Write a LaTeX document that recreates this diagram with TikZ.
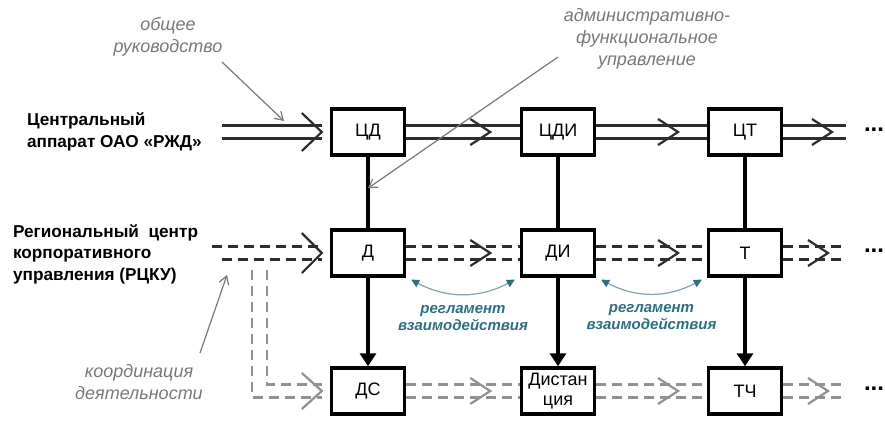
\documentclass[tikz,border=0pt]{standalone}
\usepackage{fontspec}
\setmainfont{Liberation Sans}
\usepackage{xcolor}
\usetikzlibrary{positioning, arrows.meta, calc}
\definecolor{ink}{RGB}{45,45,45}
\definecolor{fog}{RGB}{145,145,145}
\definecolor{notec}{RGB}{120,120,120}
\definecolor{reglc}{RGB}{45,110,130}
\definecolor{regll}{RGB}{125,165,175}
\newcommand{\chev}[3]{\draw[#1] ($(#2)+(-20,-#3)$) -- (#2) -- ($(#2)+(-20,#3)$);}

\begin{document}
\begin{tikzpicture}[x=0.5pt, y=-0.5pt,
  unit/.style={draw, line width=1.7pt, minimum width=36.5pt, minimum height=23pt, inner sep=1pt, align=center, font=\fontsize{9}{9.8}\selectfont},
  lvl/.style={anchor=west, align=left, font=\bfseries\fontsize{8.6}{10.8}\selectfont},
  dbl/.style={ink, line width=1.1pt},
  dsh/.style={ink, line width=1.1pt, dash pattern=on 5pt off 3pt},
  dshl/.style={dsh, fog},
  vline/.style={line width=1.7pt},
  note/.style={text=notec, align=center, font=\itshape\fontsize{9}{11}\selectfont},
  ptr/.style={notec, line width=0.6pt, -{Straight Barb[length=4pt,width=5pt]}},
  reg/.style={regll, line width=0.6pt, {Triangle[length=4pt,width=4pt,color=reglc]}-{Triangle[length=4pt,width=4pt,color=reglc]}},
  regtxt/.style={text=reglc, align=center, font=\bfseries\itshape\fontsize{7.5}{8.5}\selectfont}]
\useasboundingbox (0,0) rectangle (885,424);

% units
\node[unit] (cd) at (368,132) {ЦД};
\node[unit] (cdi) at (558,132) {ЦДИ};
\node[unit] (ct) at (745,132) {ЦТ};
\node[unit] (d) at (368,253) {Д};
\node[unit] (di) at (558,253) {ДИ};
\node[unit] (t) at (745,253) {Т};
\node[unit] (ds) at (368,391) {ДС};
\node[unit] (dist) at (558,391) {Дистан\\ция};
\node[unit] (tch) at (745,391) {ТЧ};

% levels
\node[lvl] (cal) at (20,132) {Центральный\\аппарат ОАО «РЖД»};
\node[lvl] (rcku) at (6,254) {Региональный\ \ центр\\корпоративного\\управления (РЦКУ)};

\node[note] (obr) at (168,37) {общее\\руководство};
\node[note] (afu) at (647,39) {административно-\\функциональное\\управление};
\node[note] (kdt) at (139,382) {координация\\деятельности};

% top row
\coordinate (c0) at (222,132);
\coordinate (c1) at ([xshift=-4pt]cd.west);
\coordinate (c2) at ($(cd.east)!0.74!(cdi.west)$);
\coordinate (c3) at ($(cdi.east)!0.74!(ct.west)$);
\coordinate (c4) at (832,132);
\coordinate (ce) at (846,132);
\foreach \s in {3.25pt,-3.25pt} {
  \draw[dbl] ([yshift=\s]c0) -- ([yshift=\s]c1);
  \draw[dbl] ([yshift=\s]cd.east) -- ([yshift=\s]cdi.west);
  \draw[dbl] ([yshift=\s]cdi.east) -- ([yshift=\s]ct.west);
  \draw[dbl] ([yshift=\s]ct.east) -- ([yshift=\s]ce);
}
\chev{dbl}{c1}{19}
\chev{dbl}{c2}{13}
\chev{dbl}{c3}{13}
\chev{dbl}{c4}{13}
\node[font=\bfseries\large] (e1) at (874,130) {...};

% middle row
\coordinate (r0) at (212,253);
\coordinate (r0b) at (222,253);
\coordinate (r1) at ([xshift=-4pt]d.west);
\coordinate (r2) at ($(d.east)!0.74!(di.west)$);
\coordinate (r3) at ($(di.east)!0.74!(t.west)$);
\coordinate (r4) at (828,253);
\coordinate (re) at (845,253);
\draw[dsh] ([yshift=3.25pt]r0) -- ([yshift=3.25pt]r1);
\draw[dsh] ([yshift=-3.25pt]r0b) -- ([yshift=-3.25pt]r1);
\foreach \s in {3.25pt,-3.25pt} {
  \draw[dsh] ([yshift=\s]d.east) -- ([yshift=\s]di.west);
  \draw[dsh] ([yshift=\s]di.east) -- ([yshift=\s]t.west);
  \draw[dsh] ([yshift=\s]t.east) -- ([yshift=\s]re);
}
\chev{dbl}{r1}{20}
\chev{dbl}{r2}{13}
\chev{dbl}{r3}{13}
\chev{dbl}{r4}{13}
\node[font=\bfseries\large] (e2) at (874,251) {...};

% bottom row
\coordinate (k1) at (252,270);
\coordinate (k2) at (267,270);
\coordinate (s1) at ([xshift=-4pt]ds.west);
\coordinate (s2) at ($(ds.east)!0.74!(dist.west)$);
\coordinate (s3) at ($(dist.east)!0.74!(tch.west)$);
\coordinate (s4) at (828,391);
\coordinate (se) at (845,391);
\draw[dshl] (k1) |- ([yshift=-3.25pt]s1);
\draw[dshl] (k2) |- ([yshift=3.25pt]s1);
\foreach \s in {3.25pt,-3.25pt} {
  \draw[dshl] ([yshift=\s]ds.east) -- ([yshift=\s]dist.west);
  \draw[dshl] ([yshift=\s]dist.east) -- ([yshift=\s]tch.west);
  \draw[dshl] ([yshift=\s]tch.east) -- ([yshift=\s]se);
}
\chev{dbl, fog}{s1}{18}
\chev{dbl, fog}{s2}{13}
\chev{dbl, fog}{s3}{13}
\chev{dbl, fog}{s4}{13}
\node[font=\bfseries\large] (e3) at (874,389) {...};

% subordination
\draw[vline] (cd) -- (d);
\draw[vline] (cdi) -- (di);
\draw[vline] (ct) -- (t);
\draw[vline, -{Triangle[length=6.5pt,width=8pt]}] (d) -- (ds);
\draw[vline, -{Triangle[length=6.5pt,width=8pt]}] (di) -- (dist);
\draw[vline, -{Triangle[length=6.5pt,width=8pt]}] (t) -- (tch);

% notes
\coordinate (ob1) at (222,62);
\coordinate (ob2) at (284,121);
\draw[ptr] (ob1) -- (ob2);
\coordinate (af1) at (558,57);
\coordinate (af2) at ($(cd.south)!0.44!(d.north)$);
\draw[ptr] (af1) -- (af2);
\coordinate (kd1) at (200,353);
\coordinate (kd2) at (227,275);
\draw[ptr] (kd1) -- (kd2);

% regulation
\draw[reg] ([xshift=2.5pt,yshift=-1pt]d.south east) to[bend right=28] node[regtxt, below=2pt] (rg1) {регламент\\взаимодействия} ([xshift=-2.5pt,yshift=-1pt]di.south west);
\draw[reg] ([xshift=2.5pt,yshift=-1pt]di.south east) to[bend right=28] node[regtxt, below=2pt] (rg2) {регламент\\взаимодействия} ([xshift=-2.5pt,yshift=-1pt]t.south west);
\end{tikzpicture}
\end{document}
